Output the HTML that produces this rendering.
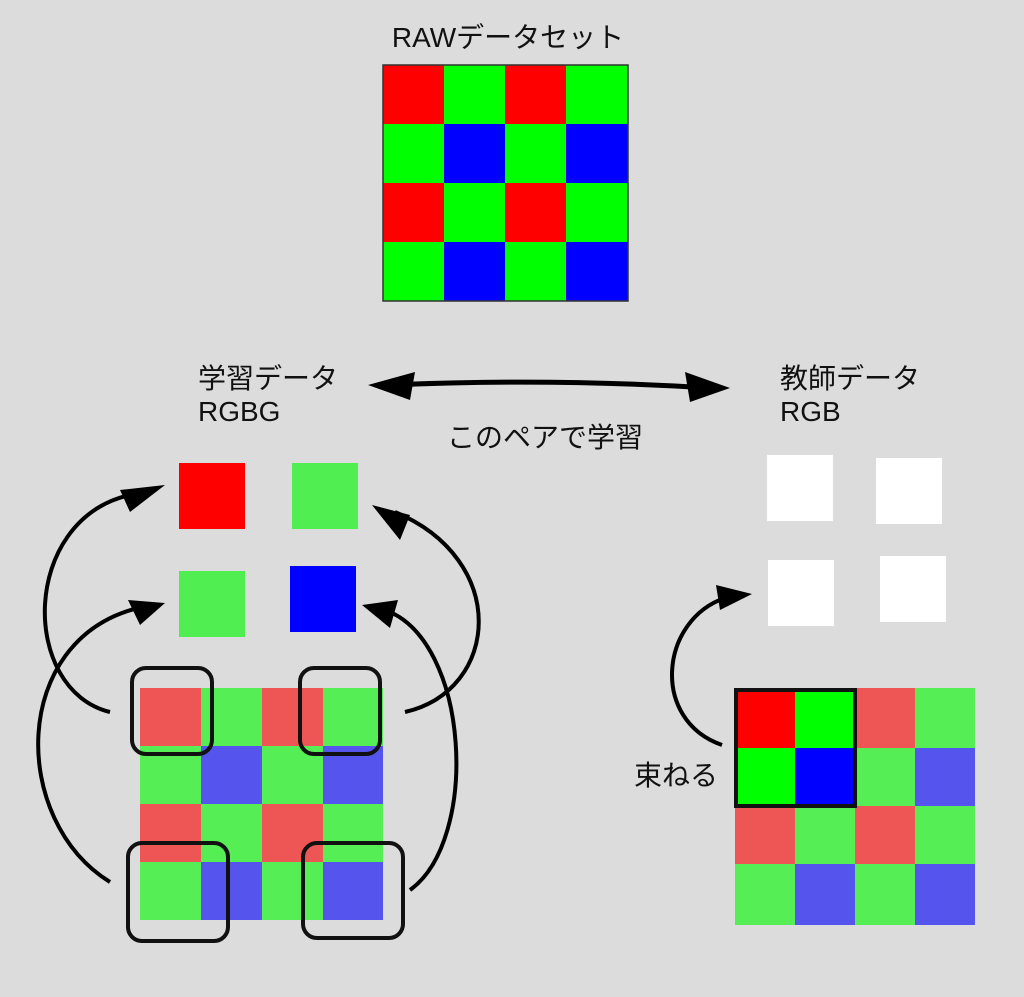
<!DOCTYPE html>
<html><head><meta charset="utf-8"><style>
body{margin:0;background:#dcdcdc;}
svg{display:block}
text{font-family:"Liberation Sans","Noto Sans CJK JP",sans-serif;fill:#111}
</style></head><body>
<svg width="1024" height="997" viewBox="0 0 1024 997">
<rect width="1024" height="997" fill="#dcdcdc"/>
<text x="508" y="47" font-size="28" text-anchor="middle">RAWデータセット</text>
<g>
<rect x="383" y="65" width="61" height="59" fill="#ff0000"/><rect x="444" y="65" width="61" height="59" fill="#00ff00"/><rect x="505" y="65" width="61" height="59" fill="#ff0000"/><rect x="566" y="65" width="62" height="59" fill="#00ff00"/>
<rect x="383" y="124" width="61" height="59" fill="#00ff00"/><rect x="444" y="124" width="61" height="59" fill="#0000ff"/><rect x="505" y="124" width="61" height="59" fill="#00ff00"/><rect x="566" y="124" width="62" height="59" fill="#0000ff"/>
<rect x="383" y="183" width="61" height="59" fill="#ff0000"/><rect x="444" y="183" width="61" height="59" fill="#00ff00"/><rect x="505" y="183" width="61" height="59" fill="#ff0000"/><rect x="566" y="183" width="62" height="59" fill="#00ff00"/>
<rect x="383" y="242" width="61" height="59" fill="#00ff00"/><rect x="444" y="242" width="61" height="59" fill="#0000ff"/><rect x="505" y="242" width="61" height="59" fill="#00ff00"/><rect x="566" y="242" width="62" height="59" fill="#0000ff"/>
<rect x="383" y="65" width="245" height="236" fill="none" stroke="#333" stroke-width="1.5"/>
</g>
<text x="198" y="388" font-size="28">学習データ</text>
<text x="198" y="421" font-size="28">RGBG</text>
<text x="780" y="388" font-size="28">教師データ</text>
<text x="780" y="421" font-size="28">RGB</text>
<text x="545" y="447" font-size="28" text-anchor="middle">このペアで学習</text>
<path d="M390 385 Q550 378 710 388" stroke="#000" stroke-width="5" fill="none"/>
<polygon points="368,385 415,372 410,400" fill="#000"/>
<polygon points="730,388 685,372 690,402" fill="#000"/>
<rect x="179" y="463" width="66" height="66" fill="#ff0000"/>
<rect x="292" y="463" width="66" height="66" fill="#50ee50"/>
<rect x="179" y="571" width="66" height="66" fill="#50ee50"/>
<rect x="290" y="566" width="66" height="66" fill="#0000ff"/>
<rect x="767" y="455" width="66" height="66" fill="#fff"/>
<rect x="876" y="458" width="66" height="66" fill="#fff"/>
<rect x="768" y="560" width="66" height="66" fill="#fff"/>
<rect x="880" y="556" width="66" height="66" fill="#fff"/>
<g>
<rect x="140" y="688" width="61" height="58" fill="#ee5555"/><rect x="201" y="688" width="61" height="58" fill="#55ee55"/><rect x="262" y="688" width="61" height="58" fill="#ee5555"/><rect x="323" y="688" width="60" height="58" fill="#55ee55"/>
<rect x="140" y="746" width="61" height="58" fill="#55ee55"/><rect x="201" y="746" width="61" height="58" fill="#5555ee"/><rect x="262" y="746" width="61" height="58" fill="#55ee55"/><rect x="323" y="746" width="60" height="58" fill="#5555ee"/>
<rect x="140" y="804" width="61" height="58" fill="#ee5555"/><rect x="201" y="804" width="61" height="58" fill="#55ee55"/><rect x="262" y="804" width="61" height="58" fill="#ee5555"/><rect x="323" y="804" width="60" height="58" fill="#55ee55"/>
<rect x="140" y="862" width="61" height="58" fill="#55ee55"/><rect x="201" y="862" width="61" height="58" fill="#5555ee"/><rect x="262" y="862" width="61" height="58" fill="#55ee55"/><rect x="323" y="862" width="60" height="58" fill="#5555ee"/>
</g>
<g fill="none" stroke="#111" stroke-width="4">
<rect x="132" y="668" width="80" height="86" rx="14"/>
<rect x="300" y="668" width="80" height="86" rx="14"/>
<rect x="128" y="843" width="100" height="98" rx="14"/>
<rect x="303" y="843" width="100" height="95" rx="14"/>
</g>
<g>
<rect x="735" y="688" width="60" height="60" fill="#ff0000"/><rect x="795" y="688" width="60" height="60" fill="#00ff00"/><rect x="855" y="688" width="60" height="60" fill="#ee5555"/><rect x="915" y="688" width="60" height="60" fill="#55ee55"/>
<rect x="735" y="748" width="60" height="58" fill="#00ff00"/><rect x="795" y="748" width="60" height="58" fill="#0000ff"/><rect x="855" y="748" width="60" height="58" fill="#55ee55"/><rect x="915" y="748" width="60" height="58" fill="#5555ee"/>
<rect x="735" y="806" width="60" height="58" fill="#ee5555"/><rect x="795" y="806" width="60" height="58" fill="#55ee55"/><rect x="855" y="806" width="60" height="58" fill="#ee5555"/><rect x="915" y="806" width="60" height="58" fill="#55ee55"/>
<rect x="735" y="864" width="60" height="61" fill="#55ee55"/><rect x="795" y="864" width="60" height="61" fill="#5555ee"/><rect x="855" y="864" width="60" height="61" fill="#55ee55"/><rect x="915" y="864" width="60" height="61" fill="#5555ee"/>
<rect x="736" y="690" width="119" height="116" fill="none" stroke="#111" stroke-width="4"/>
</g>
<text x="634" y="785" font-size="28">束ねる</text>
<g fill="none" stroke="#000" stroke-width="4">
<path d="M110 712 C20 690 20 520 130 495"/>
<path d="M110 882 C10 820 10 640 138 608"/>
<path d="M405 712 C500 690 510 560 395 512"/>
<path d="M410 890 C480 840 470 640 385 610"/>
<path d="M722 745 C650 720 660 620 725 598"/>
</g>
<g fill="#000">
<polygon points="165,485 120,490 130,512"/>
<polygon points="165,603 128,600 140,625"/>
<polygon points="372,505 400,540 410,515"/>
<polygon points="362,605 398,600 390,628"/>
<polygon points="752,594 716,585 720,610"/>
</g>
</svg>
</body></html>
